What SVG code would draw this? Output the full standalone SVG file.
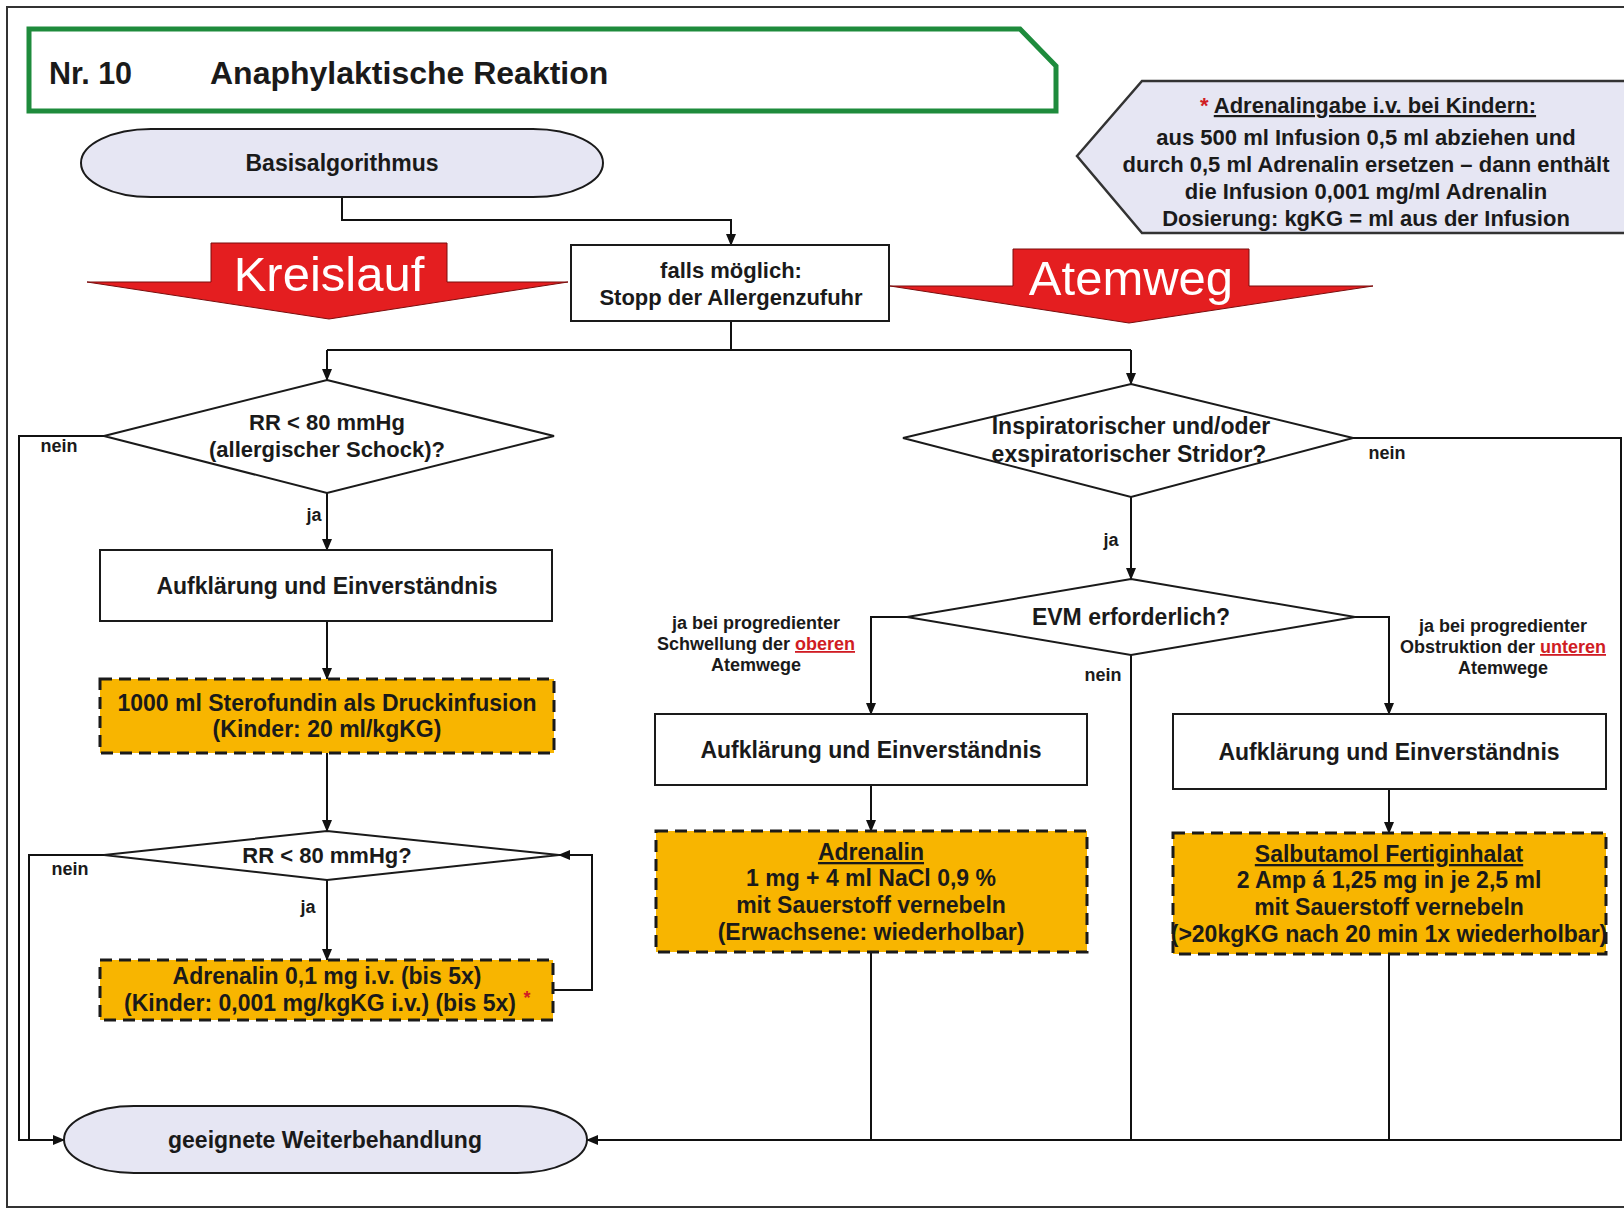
<svg xmlns="http://www.w3.org/2000/svg" width="1624" height="1212" viewBox="0 0 1624 1212">
<defs>
<marker id="arr" markerUnits="userSpaceOnUse" markerWidth="12" markerHeight="10" refX="11" refY="5" orient="auto">
<path d="M0,0 L12,5 L0,10 z" fill="#111"/>
</marker>
<style>
text{font-family:"Liberation Sans",Arial,sans-serif;font-weight:bold;fill:#1a1a1a;text-anchor:middle}
.box{fill:#fff;stroke:#1a1a1a;stroke-width:2}
.dia{fill:#fff;stroke:#1a1a1a;stroke-width:2}
.orange{fill:#f8b500;stroke:#1a1a1a;stroke-width:3;stroke-dasharray:12 7}
.term{fill:#e6e6f3;stroke:#1a1a1a;stroke-width:2}
.red{fill:#e41e20;stroke:#7a0d0d;stroke-width:1}
.big{font-weight:normal;fill:#fff;font-size:49px}
.t{font-size:23px}
.d{font-size:22px}
.s{font-size:18px}
.i{font-size:22px}
.conn path{fill:none;stroke:#111;stroke-width:2}
.ul{text-decoration:underline}
.rd{fill:#d01c24}
</style>
</defs>
<rect x="0" y="0" width="1624" height="1212" fill="#fff"/>
<rect x="7" y="7" width="1650" height="1200" fill="none" stroke="#333" stroke-width="2"/>

<g id="title">
<polygon points="29,29 1020,29 1056,66 1056,111 29,111" fill="#fff" stroke="#1e8b3c" stroke-width="5"/>
<text x="49" y="84" style="font-size:30.5px;text-anchor:start">Nr. 10</text>
<text x="210" y="84" style="font-size:32px;text-anchor:start">Anaphylaktische Reaktion</text>
</g>

<g id="info">
<polygon points="1077,156 1142,81 1650,81 1650,233 1142,233" fill="#e6e6f3" stroke="#333" stroke-width="2.5"/>
<text class="i" x="1368" y="113"><tspan class="rd">* </tspan><tspan class="ul">Adrenalingabe i.v. bei Kindern:</tspan></text>
<text class="i" x="1366" y="145">aus 500 ml Infusion 0,5 ml abziehen und</text>
<text class="i" x="1366" y="172">durch 0,5 ml Adrenalin ersetzen – dann enthält</text>
<text class="i" x="1366" y="199">die Infusion 0,001 mg/ml Adrenalin</text>
<text class="i" x="1366" y="226">Dosierung:  kgKG = ml aus der Infusion</text>
</g>

<g id="kreislauf">
<polygon class="red" points="211,243 447,243 447,282 568,282 329,319 87,282 211,282"/>
<text class="big" x="329" y="291">Kreislauf</text>
</g>
<g id="atemweg">
<polygon class="red" points="1013,249 1249,249 1249,286 1373,286 1129,323 890,286 1013,286"/>
<text class="big" x="1131" y="295">Atemweg</text>
</g>

<g class="conn" id="connectors">
<path d="M342,197 V220 H731 V245" marker-end="url(#arr)"/>
<path d="M731,321 V350 M327,350 H1131"/>
<path d="M327,350 V380" marker-end="url(#arr)"/>
<path d="M1131,350 V384" marker-end="url(#arr)"/>
<path d="M104,436 H19 V1140 H64" marker-end="url(#arr)"/>
<path d="M327,493 V550" marker-end="url(#arr)"/>
<path d="M327,621 V679" marker-end="url(#arr)"/>
<path d="M327,753 V831" marker-end="url(#arr)"/>
<path d="M104,855 H29 V1140"/>
<path d="M327,880 V960" marker-end="url(#arr)"/>
<path d="M553,990 H592 V855 H559" marker-end="url(#arr)"/>
<path d="M1353,438 H1621 V1140 H587" marker-end="url(#arr)"/>
<path d="M1131,497 V579" marker-end="url(#arr)"/>
<path d="M907,617 H871 V714" marker-end="url(#arr)"/>
<path d="M1355,617 H1389 V714" marker-end="url(#arr)"/>
<path d="M1131,655 V1140"/>
<path d="M871,785 V831" marker-end="url(#arr)"/>
<path d="M1389,789 V833" marker-end="url(#arr)"/>
<path d="M871,952 V1140"/>
<path d="M1389,954 V1140"/>
</g>

<g id="labels">
<text class="s" x="59" y="452">nein</text>
<text class="s" x="314" y="521">ja</text>
<text class="s" x="70" y="875">nein</text>
<text class="s" x="308" y="913">ja</text>
<text class="s" x="1387" y="459">nein</text>
<text class="s" x="1111" y="546">ja</text>
<text class="s" x="1103" y="681">nein</text>
<text class="s" x="756" y="629">ja bei progredienter</text>
<text class="s" x="756" y="650">Schwellung der <tspan class="rd ul">oberen</tspan></text>
<text class="s" x="756" y="671">Atemwege</text>
<text class="s" x="1503" y="632">ja bei progredienter</text>
<text class="s" x="1503" y="653">Obstruktion der <tspan class="rd ul">unteren</tspan></text>
<text class="s" x="1503" y="674">Atemwege</text>
</g>

<g id="basis">
<rect class="term" x="81" y="129" width="522" height="68" rx="70" ry="34"/>
<text class="t" x="342" y="171">Basisalgorithmus</text>
</g>

<g id="stopp">
<rect class="box" x="571" y="245" width="318" height="76"/>
<text class="d" x="731" y="278">falls möglich:</text>
<text class="d" x="731" y="305">Stopp der Allergenzufuhr</text>
</g>

<g id="rr1">
<polygon class="dia" points="327,380 554,436 327,493 104,436"/>
<text class="d" x="327" y="430">RR &lt; 80 mmHg</text>
<text class="d" x="327" y="457">(allergischer Schock)?</text>
</g>

<g id="aufkl1">
<rect class="box" x="100" y="550" width="452" height="71"/>
<text class="t" x="327" y="594">Aufklärung und Einverständnis</text>
</g>

<g id="sterofundin">
<rect class="orange" x="100" y="679" width="454" height="74"/>
<text class="t" x="327" y="711">1000 ml  Sterofundin als Druckinfusion</text>
<text class="t" x="327" y="737">(Kinder: 20 ml/kgKG)</text>
</g>

<g id="rr2">
<polygon class="dia" points="327,831 559,855 327,880 104,855"/>
<text class="d" x="327" y="863">RR &lt; 80 mmHg?</text>
</g>

<g id="adrenalin-iv">
<rect class="orange" x="100" y="960" width="453" height="60"/>
<text class="t" x="327" y="984">Adrenalin 0,1 mg i.v. (bis 5x)</text>
<text class="t" x="320" y="1011">(Kinder: 0,001 mg/kgKG i.v.) (bis 5x)</text>
<text class="s rd" x="527" y="1004">*</text>
</g>

<g id="weiter">
<rect class="term" x="64" y="1106" width="523" height="67" rx="70" ry="34"/>
<text class="t" x="325" y="1148">geeignete Weiterbehandlung</text>
</g>

<g id="stridor">
<polygon class="dia" points="1131,384 1353,438 1131,497 903,438"/>
<text class="t" x="1131" y="434">Inspiratorischer und/oder</text>
<text class="t" x="1129" y="462">exspiratorischer Stridor?</text>
</g>

<g id="evm">
<polygon class="dia" points="1131,579 1355,617 1131,655 907,617"/>
<text class="t" x="1131" y="625">EVM erforderlich?</text>
</g>

<g id="aufkl2">
<rect class="box" x="655" y="714" width="432" height="71"/>
<text class="t" x="871" y="758">Aufklärung und Einverständnis</text>
</g>

<g id="aufkl3">
<rect class="box" x="1173" y="714" width="433" height="75"/>
<text class="t" x="1389" y="760">Aufklärung und Einverständnis</text>
</g>

<g id="adrenalin-vern">
<rect class="orange" x="656" y="831" width="431" height="121"/>
<text class="t ul" x="871" y="860">Adrenalin</text>
<text class="t" x="871" y="886">1 mg + 4 ml  NaCl 0,9 %</text>
<text class="t" x="871" y="913">mit Sauerstoff vernebeln</text>
<text class="t" x="871" y="940">(Erwachsene: wiederholbar)</text>
</g>

<g id="salbutamol">
<rect class="orange" x="1173" y="833" width="433" height="121"/>
<text class="t ul" x="1389" y="862">Salbutamol Fertiginhalat</text>
<text class="t" x="1389" y="888">2 Amp á 1,25 mg in je 2,5 ml</text>
<text class="t" x="1389" y="915">mit Sauerstoff vernebeln</text>
<text class="t" x="1389" y="942">(&gt;20kgKG nach 20 min 1x wiederholbar)</text>
</g>
</svg>
